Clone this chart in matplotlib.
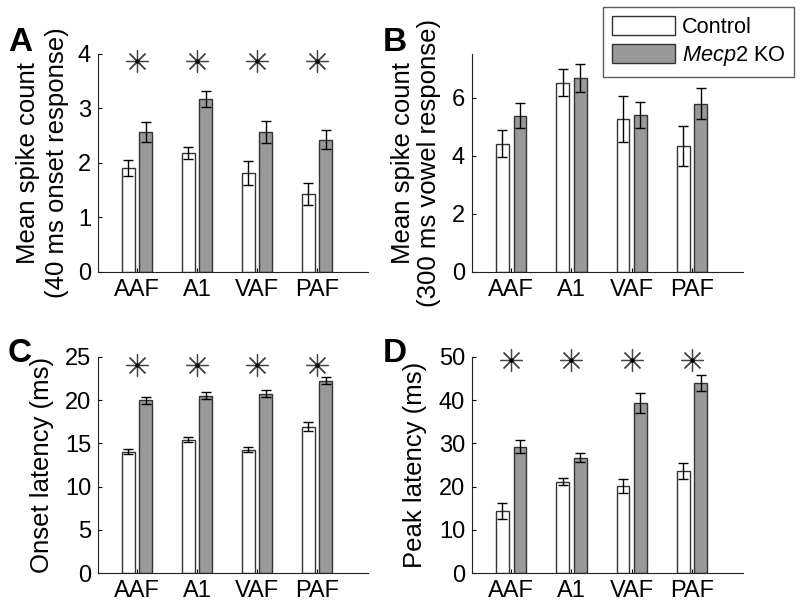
import numpy as np
import matplotlib
matplotlib.use("Agg")
import matplotlib.pyplot as plt
from matplotlib.patches import Patch

plt.rcParams['font.family'] = ['Liberation Sans', 'DejaVu Sans']
plt.rcParams['mathtext.fontset'] = 'custom'
plt.rcParams['mathtext.rm'] = 'Liberation Sans'
plt.rcParams['mathtext.it'] = 'Liberation Sans:italic'

# data
areas = ['AAF', 'A1', 'VAF', 'PAF']

onset_ctrl = [1.91, 2.19, 1.81, 1.43]
onset_ctrl_err = [0.14, 0.11, 0.22, 0.21]
onset_ko = [2.57, 3.17, 2.57, 2.43]
onset_ko_err = [0.19, 0.15, 0.20, 0.17]

vowel_ctrl = [4.41, 6.51, 5.26, 4.34]
vowel_ctrl_err = [0.46, 0.47, 0.78, 0.69]
vowel_ko = [5.38, 6.67, 5.40, 5.79]
vowel_ko_err = [0.43, 0.48, 0.46, 0.53]

onlat_ctrl = [14.05, 15.44, 14.29, 16.95]
onlat_ctrl_err = [0.30, 0.30, 0.30, 0.50]
onlat_ko = [20.0, 20.54, 20.73, 22.24]
onlat_ko_err = [0.40, 0.40, 0.40, 0.40]

peak_ctrl = [14.4, 21.1, 20.2, 23.6]
peak_ctrl_err = [1.85, 0.80, 1.60, 1.80]
peak_ko = [29.2, 26.7, 39.4, 44.0]
peak_ko_err = [1.50, 1.10, 2.30, 1.90]

# significance star heights (None = no stars)
star_onset = 3.88
star_onlat = 24.1
star_peak = 49.2

FS_TICK = 17
FS_LABEL = 18.5
GRAY = '#999999'
EDGE = '#333333'


def draw_panel(ax, ctrl, ctrl_err, ko, ko_err, ylim, yticks, label_lines, label_xs, star_y=None):
    x = np.arange(1, len(areas) + 1)
    w = 0.21
    off = 0.145
    ax.bar(x - off, ctrl, w, color='white', edgecolor=EDGE, linewidth=1)
    ax.bar(x + off, ko, w, color=GRAY, edgecolor=EDGE, linewidth=1)
    ax.errorbar(x - off, ctrl, yerr=ctrl_err, fmt='none', ecolor='black', elinewidth=1, capsize=3.5, capthick=1)
    ax.errorbar(x + off, ko, yerr=ko_err, fmt='none', ecolor='black', elinewidth=1, capsize=3.5, capthick=1)
    if star_y is not None:
        ax.plot(x, [star_y] * len(x), ls='none', marker=(8, 2, 0), ms=16, mew=0.9, color='#444444', clip_on=False)
        ax.plot(x, [star_y] * len(x), ls='none', marker='o', ms=2, color='black', clip_on=False)
    ax.set_xlim(0.35, 4.85)
    ax.set_ylim(*ylim)
    ax.set_yticks(yticks)
    ax.set_xticks(x)
    ax.set_xticklabels(areas)
    ax.spines['top'].set_visible(False)
    ax.spines['right'].set_visible(False)
    for s in ('left', 'bottom'):
        ax.spines[s].set_linewidth(0.8)
        ax.spines[s].set_color('#222222')
    ax.tick_params(direction='in', length=3, width=0.8, labelsize=FS_TICK, pad=5)
    # y label, one text per line (placed like the original)
    for line, lx in zip(label_lines, label_xs):
        ax.text(lx, 0.5, line, transform=ax.transAxes, rotation=90, fontsize=FS_LABEL,
                ha='center', va='center')


fig = plt.figure(figsize=(8, 6.12), dpi=100)
axA = fig.add_axes([0.1225, 0.5556, 0.3375, 0.3562])
axB = fig.add_axes([0.59, 0.5556, 0.339, 0.3562])
axC = fig.add_axes([0.1225, 0.0637, 0.3375, 0.353])
axD = fig.add_axes([0.59, 0.0637, 0.339, 0.353])

draw_panel(axA, onset_ctrl, onset_ctrl_err, onset_ko, onset_ko_err, (0, 4), [0, 1, 2, 3, 4],
           ['Mean spike count', '(40 ms onset response)'], [-0.259, -0.152], star_onset)
draw_panel(axB, vowel_ctrl, vowel_ctrl_err, vowel_ko, vowel_ko_err, (0, 7.5), [0, 2, 4, 6],
           ['Mean spike count', '(300 ms vowel response)'], [-0.255, -0.159])
draw_panel(axC, onlat_ctrl, onlat_ctrl_err, onlat_ko, onlat_ko_err, (0, 25), [0, 5, 10, 15, 20, 25],
           ['Onset latency (ms)'], [-0.207], star_onlat)
draw_panel(axD, peak_ctrl, peak_ctrl_err, peak_ko, peak_ko_err, (0, 50), [0, 10, 20, 30, 40, 50],
           ['Peak latency (ms)'], [-0.21], star_peak)

# panel letters
for letter, (px, py) in zip('ABCD', [(8, 51), (383, 51), (8, 362), (383, 362)]):
    fig.text(px / 800, 1 - py / 612, letter, fontsize=24, fontweight='bold', ha='left', va='baseline')

handles = [Patch(facecolor='white', edgecolor=EDGE, linewidth=1),
           Patch(facecolor=GRAY, edgecolor=EDGE, linewidth=1)]
leg = fig.legend(handles, ['Control', r'$\mathit{Mecp2}$ KO'], loc='upper right',
                 bbox_to_anchor=(794 / 800, 1 - 7 / 612), fontsize=15.7, frameon=True,
                 fancybox=False, edgecolor='#333333', handlelength=2.9, handleheight=0.95,
                 handletextpad=0.3, borderpad=0.4, labelspacing=0.3, borderaxespad=0)
leg.get_frame().set_linewidth(1)

fig.savefig('out.png', dpi=100)
